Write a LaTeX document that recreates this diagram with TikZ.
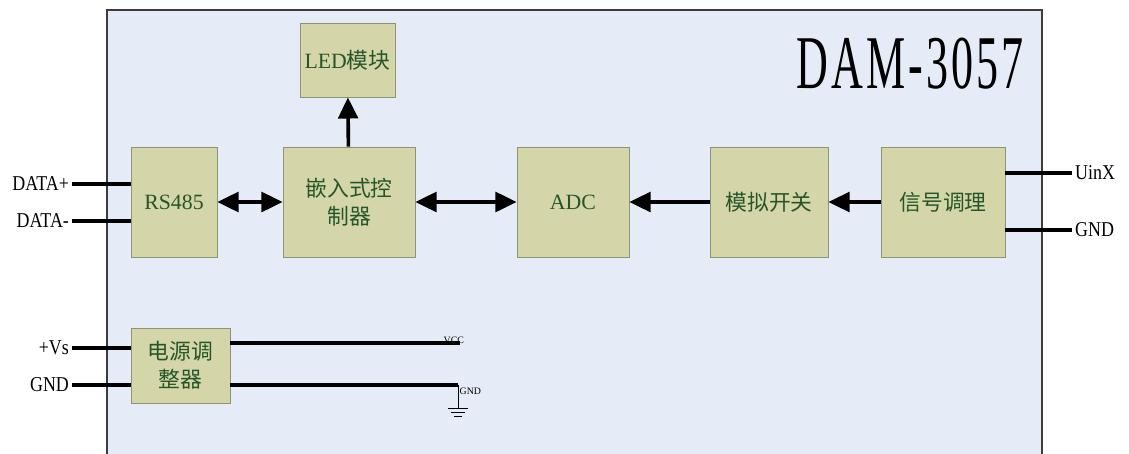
\documentclass[tikz,border=0pt]{standalone}
\usepackage{fontspec}
\setmainfont{Liberation Serif}
\newfontfamily\cjk{Noto Sans CJK SC}
\newfontfamily\pinfont[FakeStretch=0.85]{Liberation Serif}
\newfontfamily\titlefont[FakeStretch=0.58, LetterSpace=4]{Liberation Serif}
\usetikzlibrary{arrows.meta, positioning}
\definecolor{panelbg}{RGB}{229,236,247}
\definecolor{blockfill}{RGB}{212,214,170}
\definecolor{blockedge}{RGB}{138,150,112}
\definecolor{blocktext}{RGB}{38,86,40}
\definecolor{frameline}{RGB}{60,60,60}

\begin{document}
\begin{tikzpicture}[x=0.025cm, y=-0.025cm,
    block/.style={rectangle, draw=blockedge, fill=blockfill, line width=0.6pt, inner sep=0pt,
        minimum height=2.75cm, text=blocktext, align=center, font=\fontsize{15.5}{20}\selectfont},
    pinlabel/.style={inner sep=2pt, font=\pinfont\fontsize{15}{17}\selectfont},
    pin/.style={line width=2.6pt},
    bus/.style={line width=2.6pt, -{Triangle[length=15pt,width=14pt]}},
    dbus/.style={line width=2.6pt, {Triangle[length=15pt,width=14pt]}-{Triangle[length=15pt,width=14pt]}},
    tiny/.style={inner sep=0pt, font=\fontsize{7}{8}\selectfont}]
    \useasboundingbox (0,0) rectangle (1129,453);
    % Panel
    \fill[panelbg] (107,10) rectangle (1042,470);
    \draw[frameline, line width=1.3pt] (107,470) -- (107,10) -- (1042,10) -- (1042,470);
    \node[anchor=north east, inner sep=0pt] (title) at (1024,38)
        {\titlefont\fontsize{54}{56}\selectfont DAM-3057};
    % Blocks
    \node[block, minimum width=2.375cm, minimum height=1.85cm] (led) at (347.5,60) {LED{\cjk 模块}};
    \node[block, minimum width=2.15cm] (rs485) at (174,202) {RS485};
    \node[block, minimum width=3.3cm] (mcu) at (349,202) {\cjk 嵌入式控\\\cjk 制器};
    \node[block, minimum width=2.8cm] (adc) at (573,202) {ADC};
    \node[block, minimum width=2.95cm] (mux) at (769,202) {\cjk 模拟开关};
    \node[block, minimum width=3.1cm] (cond) at (943,202) {\cjk 信号调理};
    \node[block, minimum width=2.475cm, minimum height=1.875cm] (power) at (180.5,365.5) {\cjk 电源调\\\cjk 整器};
    % Pin labels
    \node[pinlabel, anchor=east] (dplus) at (72,184) {DATA+};
    \node[pinlabel, anchor=east] (dminus) at (72,221) {DATA-};
    \node[pinlabel, anchor=west] (uinx) at (1072,173) {UinX};
    \node[pinlabel, anchor=west] (agnd) at (1072,230) {GND};
    \node[pinlabel, anchor=east] (vs) at (72,348) {+Vs};
    \node[pinlabel, anchor=east] (pgnd) at (72,385) {GND};
    % Pins
    \draw[pin] (dplus.east) -- (dplus -| rs485.west);
    \draw[pin] (dminus.east) -- (dminus -| rs485.west);
    \draw[pin] (uinx -| cond.east) -- (uinx.west);
    \draw[pin] (agnd -| cond.east) -- (agnd.west);
    \draw[pin] (vs.east) -- (vs -| power.west);
    \draw[pin] (pgnd.east) -- (pgnd -| power.west);
    % Data flow
    \draw[dbus] (rs485) -- (mcu);
    \draw[dbus] (mcu) -- (adc);
    \draw[bus] (mux) -- (adc);
    \draw[bus] (cond) -- (mux);
    \draw[bus] (mcu) -- (led);
    % Supply rails
    \coordinate (vccend) at (460,343);
    \coordinate (gndend) at (458,385);
    \coordinate (earth) at (458,408);
    \draw[pin] (power.east |- vccend) -- (vccend);
    \draw[pin] (power.east |- gndend) -- (gndend);
    \draw[line width=0.6pt] (gndend) -- (earth);
    \draw[line width=0.6pt] ([xshift=-7]earth) -- ([xshift=7]earth);
    \draw[line width=0.6pt] ([xshift=-5,yshift=-3]earth) -- ([xshift=5,yshift=-3]earth);
    \draw[line width=0.6pt] ([xshift=-2.5,yshift=-6]earth) -- ([xshift=2.5,yshift=-6]earth);
    \node[tiny, anchor=south east] (vcclbl) at ([xshift=3,yshift=-1]vccend) {VCC};
    \node[tiny, anchor=north west] (gndlbl) at ([xshift=1,yshift=-2]gndend) {GND};
\end{tikzpicture}
\end{document}
